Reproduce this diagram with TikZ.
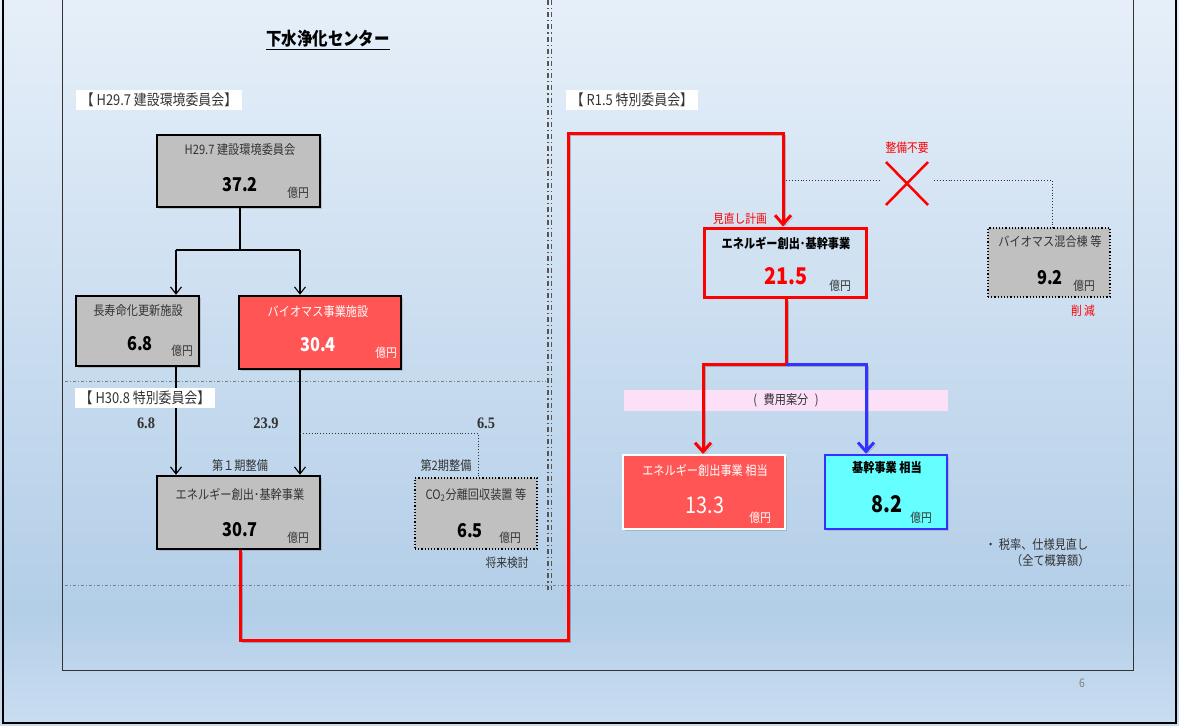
\documentclass[tikz,border=0pt]{standalone}
\usepackage{fontspec}
\setmainfont{Noto Sans CJK JP}[FakeStretch=0.86]
\newfontfamily\sernum{Liberation Serif}[FakeStretch=0.9]
\usetikzlibrary{arrows.meta,shadows}
\definecolor{bgtop}{HTML}{E6EFF9}
\definecolor{bgmid}{HTML}{B3CEE8}
\definecolor{bgbot}{HTML}{CADDF0}
\definecolor{gfill}{HTML}{C0C0C0}
\definecolor{rfill}{HTML}{FF5555}
\definecolor{cfill}{HTML}{66FFFF}
\definecolor{bbord}{HTML}{3333FF}
\definecolor{pinkb}{HTML}{FCE0F8}
\definecolor{txt}{HTML}{333333}
\definecolor{sep}{HTML}{555555}
\tikzset{
  shd/.style={drop shadow={opacity=0.35,shadow xshift=2pt,shadow yshift=-2pt}},
  lshd/.style={preaction={draw=black,opacity=0.22,transform canvas={shift={(2pt,-2pt)}}}},
  gbox/.style={shd,draw=black,line width=2.5pt,fill=gfill,inner sep=0pt},
  dbox/.style={draw=black,dotted,line width=1.2pt,fill=gfill,inner sep=0pt},
  rbox/.style={shd,draw=black,line width=2.5pt,fill=rfill,inner sep=0pt},
  ttl/.style={text=txt,font=\fontsize{13}{15}\selectfont,inner sep=0pt},
  num/.style={text=black,font=\fontsize{19}{21}\selectfont\bfseries,inner sep=0pt},
  bnum/.style={text=black,font=\fontsize{23}{25}\selectfont\bfseries,inner sep=0pt},
  yen/.style={text=txt,font=\fontsize{12.5}{14}\selectfont,inner sep=0pt},
  tag/.style={fill=white,text=txt,font=\fontsize{15}{17}\selectfont,inner xsep=5pt,inner ysep=3.5pt},
  snum/.style={text=txt,font=\sernum\fontsize{16}{18}\selectfont\bfseries,inner sep=0pt},
  rtxt/.style={text=red,font=\fontsize{12.5}{14}\selectfont,inner sep=0pt},
  barrow/.style={line width=1.1pt,-{Straight Barb[length=7pt,width=11pt,line width=1.1pt]}},
  rline/.style={lshd,draw=red,line width=3pt},
  rarrow/.style={rline,-{Straight Barb[length=9pt,width=16pt,line width=3pt]}},
  barrowblue/.style={lshd,draw=bbord,line width=3pt,-{Straight Barb[length=9pt,width=16pt,line width=3pt]}},
  dots/.style={draw=txt,line width=0.9pt,dotted},
  hsep/.style={draw=gray,line width=0.7pt,dash pattern=on 3pt off 2pt on 1pt off 2pt},
}
\begin{document}
\begin{tikzpicture}[x=1pt,y=-1pt]
\useasboundingbox (0,0) rectangle (1179,726);
% background
\shade[top color=bgtop,bottom color=bgmid] (0,0) rectangle (1179,610);
\shade[top color=bgmid,bottom color=bgbot] (0,610) rectangle (1179,726);
\draw[line width=1pt,draw=black!80] (62,-2) rectangle (1133,670);
\draw[line width=2pt] (3,-2) rectangle (1176,723);
\node[text=gray,font=\fontsize{12}{14}\selectfont] (pg) at (1082,683) {6};
% separators
\draw[sep,line width=1.2pt,dash pattern=on 5pt off 3pt on 1.2pt off 3pt] (548,0) -- (548,590);
\draw[sep,line width=1.2pt,dash pattern=on 5pt off 3pt on 1.2pt off 3pt] (551.5,0) -- (551.5,590);
\draw[hsep] (65,381) -- (546,381);
\draw[hsep] (65,585) -- (1130,585);
% title
\node[text=black,font=\fontsize{18}{20}\selectfont\bfseries,inner sep=1pt] (title) at (328,40) {\underline{下水浄化センター}};
% tags
\node[tag] (t1) at (159,100) {【 H29.7 建設環境委員会】};
\node[tag] (t2) at (632,100) {【 R1.5 特別委員会】};
% pink band
\node[fill=pinkb,minimum width=324pt,minimum height=21pt,inner sep=0pt,text=txt,font=\fontsize{13}{15}\selectfont] (band) at (786,400) {(\enspace 費用案分\enspace )};
% boxes
\node[gbox,minimum width=163pt,minimum height=72pt] (A) at (238.5,171) {};
\node[ttl] (Ati) at (240,150) {H29.7 建設環境委員会};
\node[num] (Anu) at (240,185) {37.2};
\node[yen] (Aye) at (298,193) {億円};
\node[gbox,minimum width=123pt,minimum height=70pt] (B) at (137.5,331) {};
\node[ttl] (Bti) at (138,311) {長寿命化更新施設};
\node[num] (Bnu) at (140,344) {6.8};
\node[yen] (Bye) at (182,351) {億円};
\node[rbox,minimum width=162pt,minimum height=73pt] (C) at (320,332.5) {};
\node[ttl,text=white] (Cti) at (318,312) {バイオマス事業施設};
\node[num,text=white] (Cnu) at (318,345) {30.4};
\node[yen,text=white] (Cye) at (386,353) {億円};
\node[gbox,minimum width=163pt,minimum height=73pt] (D) at (238.5,512.5) {};
\node[ttl] (Dti) at (240,494) {エネルギー創出･基幹事業};
\node[num] (Dnu) at (240,530) {30.7};
\node[yen] (Dye) at (298,538) {億円};
\node[dbox,minimum width=122pt,minimum height=71pt] (E) at (476,513.5) {};
\node[ttl] (Eti) at (476,495) {CO\textsubscript{2}分離回収装置 等};
\node[num] (Eno1) at (470,531) {6.5};
\node[yen] (Eye) at (510,538) {億円};
\node[yen] (Eno) at (507,563) {将来検討};
\node[shd,draw=red,line width=3pt,fill=bgmid!43!bgtop,inner sep=0pt,minimum width=162pt,minimum height=69pt] (F) at (785,262.5) {};
\node[ttl,text=black,font=\fontsize{13}{15}\selectfont\bfseries] (Fti) at (786,243) {エネルギー創出･基幹事業};
\node[bnum,text=red] (Fnu) at (786,276) {21.5};
\node[yen] (Fye) at (840,286) {億円};
\node[rtxt] (Fno) at (740,219) {見直し計画};
\node[dbox,minimum width=122pt,minimum height=69pt] (G) at (1049,262.5) {};
\node[ttl] (Gti) at (1050,242) {バイオマス混合棟 等};
\node[num] (Gnu) at (1050,278) {9.2};
\node[yen] (Gye) at (1084,286) {億円};
\node[rtxt] (Gno) at (1083,311) {削 減};
\node[shd,draw=white,line width=2pt,fill=rfill,inner sep=0pt,minimum width=162pt,minimum height=74pt] (H) at (704,492) {};
\node[ttl,text=white] (Hti) at (705,470) {エネルギー創出事業 相当};
\node[bnum,text=white,font=\fontsize{23}{25}\selectfont] (Hnu) at (705,505) {13.3};
\node[yen,text=white] (Hye) at (760,518) {億円};
\node[shd,draw=bbord,line width=2.5pt,fill=cfill,inner sep=0pt,minimum width=122pt,minimum height=74pt] (I) at (886,492) {};
\node[ttl,text=black,font=\fontsize{13}{15}\selectfont\bfseries] (Iti) at (887,468) {基幹事業 相当};
\node[bnum] (Inu) at (887,504) {8.2};
\node[yen] (Iye) at (921,518) {億円};
% small labels
\node[snum] (l68) at (146,423) {6.8};
\node[snum] (l239) at (266,423) {23.9};
\node[snum] (l65) at (486,423) {6.5};
\node[ttl] (p1) at (240,466) {第１期整備};
\node[ttl] (p2) at (446,466) {第2期整備};
\node[rtxt] (nx) at (907,148) {整備不要};
\node[text=txt,font=\fontsize{13}{16}\selectfont,inner sep=0pt,align=left,anchor=west] (note) at (985,553) {・ 税率、仕様見直し\\\hspace{2em}（全て概算額）};
% red X
\coordinate (X) at (907,183);
\draw[red,line width=2.5pt] (886,162) -- (928,205) (928,162) -- (886,205);
% connectors
\coordinate (ab) at (240,250);
\draw[line width=1.1pt] (A.south -| ab) -- (ab);
\draw[line width=1.1pt] (176,250) -- (300,250);
\draw[barrow] (176,250) -- (B.north -| 176,0);
\draw[barrow] (300,250) -- (C.north -| 300,0);
\draw[barrow] (B.south -| 176,0) -- (D.north -| 176,0);
\draw[barrow] (C.south -| 300,0) -- (D.north -| 300,0);
\draw[dots] (300,433) -- (478,433) -- (E.north -| 478,0);
% tag drawn over the connector
\node[tag] (t3) at (145,398) {【 H30.8 特別委員会】};
% red path
\draw[rarrow] (D.south -| 240,0) -- (240,640) -- (568,640) -- (568,133) -- (783,133) -- (F.north -| 783,0);
\draw[dots] (786,180) -- (880,180);
\draw[dots] (934,180) -- (1052,180) -- (G.north -| 1052,0);
\draw[rarrow] (F.south -| 786,0) -- (786,364) -- (703,364) -- (H.north -| 703,0);
\draw[barrowblue] (786,364) -- (866,364) -- (I.north -| 866,0);
\end{tikzpicture}
\end{document}
